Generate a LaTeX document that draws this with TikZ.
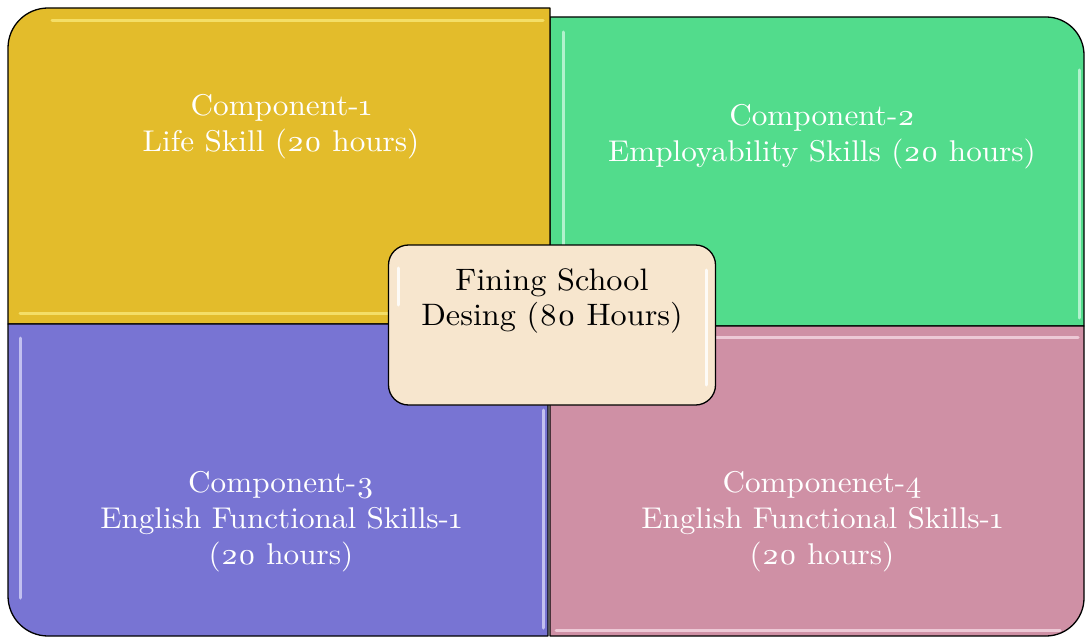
\documentclass[tikz,border=0pt]{standalone}
\usepackage{fontspec}
\newfontfamily\lblfont{lmroman10-regular.otf}[FakeStretch=1.04]
\usetikzlibrary{positioning}
\definecolor{cyel}{HTML}{E3BC2B}
\definecolor{cgrn}{HTML}{52DC8C}
\definecolor{cpur}{HTML}{7874D3}
\definecolor{cpnk}{HTML}{CF90A5}
\definecolor{chub}{HTML}{F7E6CE}
\definecolor{hyel}{HTML}{FBEA7A}
\definecolor{hgrn}{HTML}{D2FAE4}
\definecolor{hpur}{HTML}{DCDAFA}
\definecolor{hpnk}{HTML}{F8DDE7}
\tikzset{
  quad/.style={draw=black, line width=1.3pt, line join=round},
  shine/.style={line width=3pt, line cap=round, opacity=0.75},
  lbl/.style={text=white, align=center, font=\lblfont\fontsize{30}{36}\selectfont, inner sep=0pt},
  hubbox/.style={draw=black, line width=1.3pt, fill=chub, rounded corners=20pt,
    minimum width=327pt, minimum height=160pt, inner sep=0pt},
  hubtxt/.style={text=black, align=center, font=\lblfont\fontsize{31}{35}\selectfont, inner sep=0pt}
}
\newcommand{\osn}[1]{\oldstylenums{#1}}
\begin{document}
\begin{tikzpicture}[x=1pt,y=-1pt]
\useasboundingbox (0,0) rectangle (1086,639);
% green (top right)
\path[quad, fill=cgrn] (550,326) -- (550,17) -- (1046,17)
  arc[start angle=270, end angle=360, radius=38] -- (1084,326) -- cycle;
\draw[shine, hgrn] (563,32) -- (563,318);
\draw[shine, hgrn] (1079,70) -- (1079,318);
% yellow (top left)
\path[quad, fill=cyel] (550,324) -- (8,324) -- (8,48)
  arc[start angle=180, end angle=270, radius=40] -- (550,8) -- cycle;
\draw[shine, hyel] (52,21) -- (543,21);
\draw[shine, hyel] (20,313) -- (390,313);
% purple (bottom left)
\path[quad, fill=cpur] (548,324) -- (548,636) -- (48,636)
  arc[start angle=90, end angle=180, radius=40] -- (8,324) -- cycle;
\draw[shine, hpur] (20,338) -- (20,598);
\draw[shine, hpur] (543,410) -- (543,628);
% pink (bottom right)
\path[quad, fill=cpnk] (550,326) -- (1084,326) -- (1084,598)
  arc[start angle=0, end angle=90, radius=38] -- (550,636) -- cycle;
\draw[shine, hpnk] (716,337) -- (1078,337);
\draw[shine, hpnk] (556,630) -- (1060,630);
% labels
\node[lbl] (c1) at (281,127) {Component-\osn{1}\\Life Skill (\osn{20} hours)};
\node[lbl] (c2) at (822,137) {Component-\osn{2}\\Employability Skills (\osn{20} hours)};
\node[lbl] (c3) at (281,522) {Component-\osn{3}\\English Functional Skills-\osn{1}\\(\osn{20} hours)};
\node[lbl] (c4) at (822,522) {Componenet-\osn{4}\\English Functional Skills-\osn{1}\\(\osn{20} hours)};
% centre
\node[hubbox] (hub) at (552,325) {};
\draw[shine, white, opacity=0.85] (398,268) -- (398,305);
\draw[shine, white, opacity=0.85] (706,270) -- (706,385);
\node[hubtxt] (ht) at (552,301) {Fining School\\Desing (\osn{80} Hours)};
\end{tikzpicture}
\end{document}
